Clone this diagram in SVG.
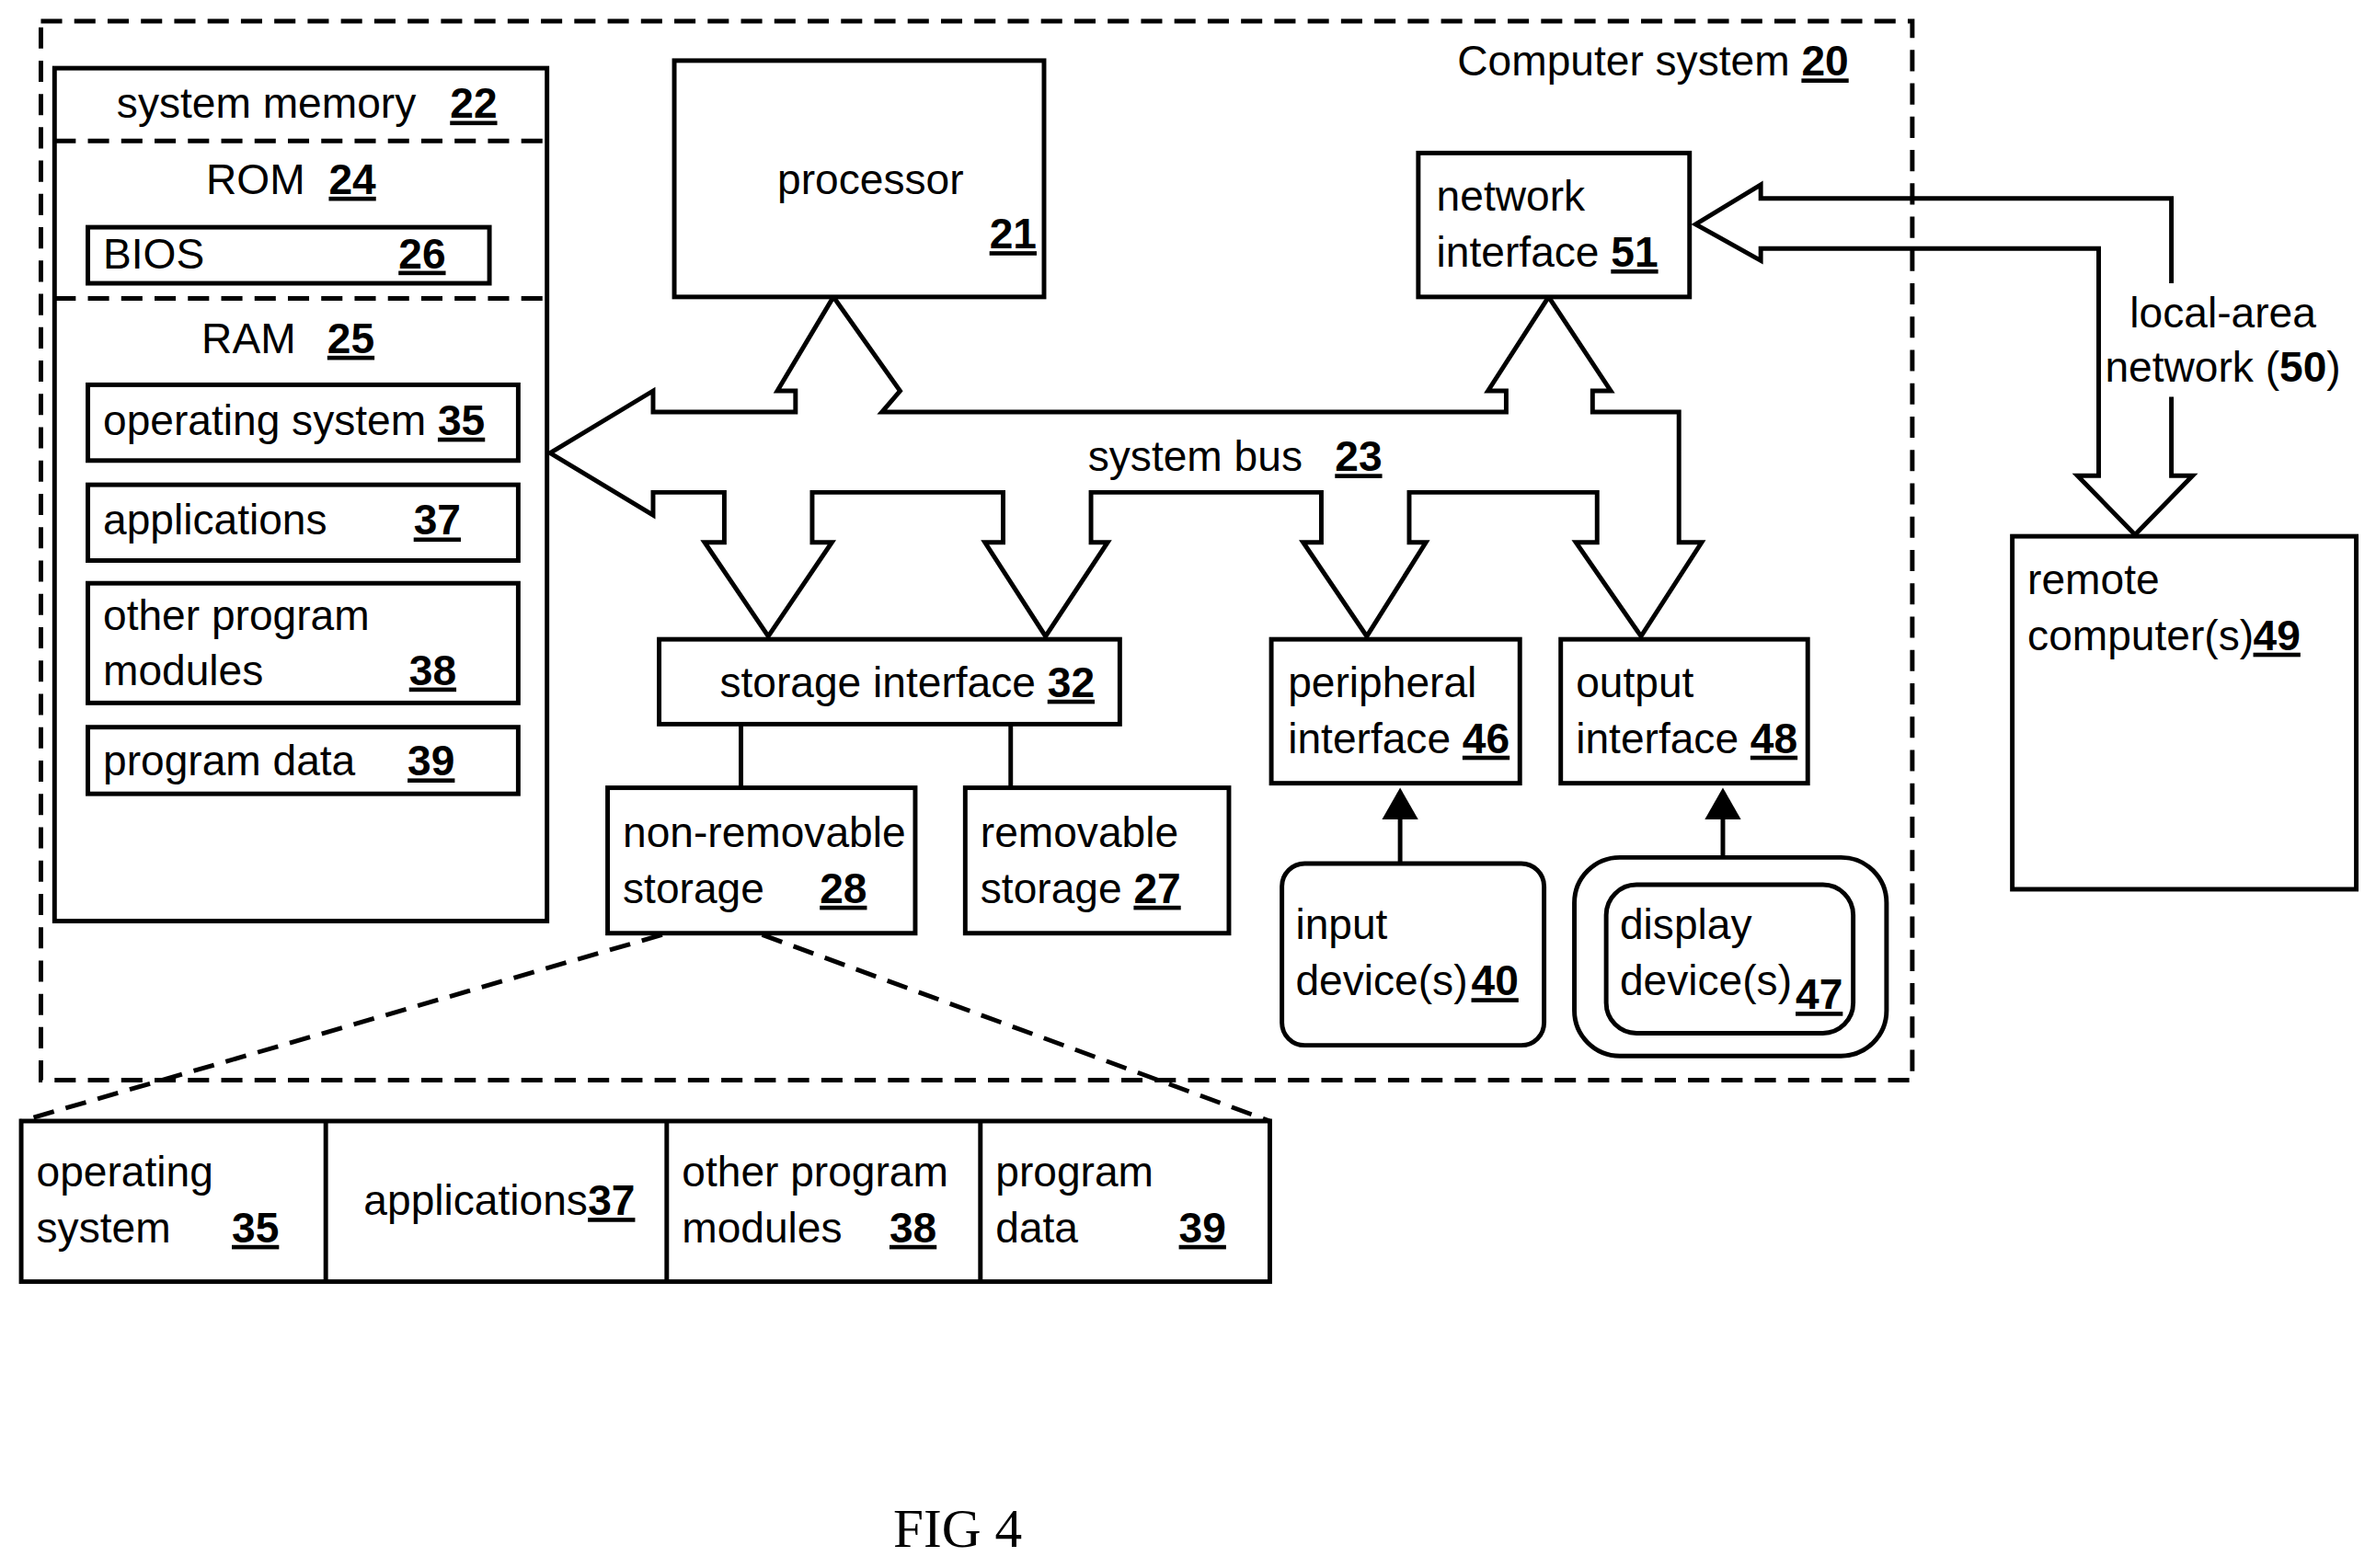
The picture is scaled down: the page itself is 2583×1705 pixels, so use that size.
<svg xmlns="http://www.w3.org/2000/svg" width="2583" height="1705" viewBox="0 0 2583 1705">
<style>
text{font-family:"Liberation Sans Narrow","Liberation Sans",Arial,sans-serif;font-size:28px;fill:#000}
.n{font-weight:bold;text-decoration:underline}
.b{fill:#fff;stroke:#000;stroke-width:3}
.d{fill:none;stroke:#000;stroke-width:3;stroke-dasharray:14 8}
.l{fill:none;stroke:#000;stroke-width:3}
</style>
<defs><marker id="ah" markerWidth="8" markerHeight="8" refX="6" refY="4" orient="auto" markerUnits="strokeWidth"><path d="M0,0L7,4L0,8z" fill="#000"/></marker></defs>
<rect width="2583" height="1705" fill="#fff"/>
<g transform="scale(1.6473)">
<g id="computer-system"><rect x="27" y="14" width="1235" height="699" class="d"/><text x="1220" y="50" text-anchor="end">Computer system <tspan class="n">20</tspan></text></g>
<g id="system-memory">
<rect x="36" y="45" width="325" height="563" class="b"/>
<line x1="36" y1="93" x2="361" y2="93" class="d"/><line x1="36" y1="197" x2="361" y2="197" class="d"/>
<text x="77" y="78">system memory</text><text x="297" y="78" class="n">22</text>
<text x="136" y="128">ROM</text><text x="217" y="128" class="n">24</text>
<rect x="58" y="150" width="265" height="37" class="b"/><text x="68" y="177">BIOS</text><text x="263" y="177" class="n">26</text>
<text x="133" y="233">RAM</text><text x="216" y="233" class="n">25</text>
<rect x="58" y="254" width="284" height="50" class="b"/><text x="68" y="287">operating system <tspan class="n">35</tspan></text>
<rect x="58" y="320" width="284" height="50" class="b"/><text x="68" y="353">applications</text><text x="273" y="353" class="n">37</text>
<rect x="58" y="385" width="284" height="79" class="b"/><text x="68" y="416">other program</text><text x="68" y="452">modules</text><text x="270" y="452" class="n">38</text>
<rect x="58" y="480" width="284" height="44" class="b"/><text x="68" y="512">program data</text><text x="269" y="512" class="n">39</text>
</g>
<g id="connectors">
<polygon class="b" points="363,299 431,258 431,272 525,272 525,258 513,258 550,196 594,258 582,272 582,272 994,272 994,258 982,258 1022,196 1063,258 1051,258 1051,272 1108,272 1108,358 1123,358 1083,420 1040,358 1054,358 1054,325 930,325 930,358 941,358 902,420 860,358 872,358 872,325 720,325 720,358 731,358 690,420 650,358 662,358 662,325 536,325 536,358 549,358 507,420 465,358 478,358 478,325 431,325 431,340"/>
<line x1="489" y1="478" x2="489" y2="520" class="l"/><line x1="667" y1="478" x2="667" y2="520" class="l"/>
<line x1="924" y1="570" x2="924" y2="523" class="l" marker-end="url(#ah)"/>
<line x1="1137" y1="566" x2="1137" y2="523" class="l" marker-end="url(#ah)"/>
<polyline class="l" points="1433,187 1433,131 1162,131 1162,122 1119,148 1162,172 1162,164 1385,164 1385,314 1371,314 1409,353 1447,314 1433,314 1433,262"/>
<line x1="437" y1="617" x2="14" y2="740" class="d"/><line x1="503" y1="617" x2="838" y2="740" class="d"/>
</g>
<g id="processor"><rect x="445" y="40" width="244" height="156" class="b"/><text x="513" y="128">processor</text><text x="653" y="164" class="n">21</text></g>
<g id="network-interface"><rect x="936" y="101" width="179" height="95" class="b"/><text x="948" y="139">network</text><text x="948" y="176">interface <tspan class="n">51</tspan></text></g>
<text x="718" y="311">system bus</text><text x="881" y="311" class="n">23</text>
<text x="1467" y="216" text-anchor="middle">local-area</text><text x="1467" y="252" text-anchor="middle">network (<tspan font-weight="bold">50</tspan>)</text>
<g id="storage-interface"><rect x="435" y="422" width="304" height="56" class="b"/><text x="475" y="460">storage interface <tspan class="n">32</tspan></text></g>
<g id="non-removable"><rect x="401" y="520" width="203" height="96" class="b"/><text x="411" y="559">non-removable</text><text x="411" y="596">storage</text><text x="541" y="596" class="n">28</text></g>
<g id="removable"><rect x="637" y="520" width="174" height="96" class="b"/><text x="647" y="559">removable</text><text x="647" y="596">storage  <tspan class="n">27</tspan></text></g>
<g id="peripheral"><rect x="839" y="422" width="164" height="95" class="b"/><text x="850" y="460">peripheral</text><text x="850" y="497">interface <tspan class="n">46</tspan></text></g>
<g id="output"><rect x="1030" y="422" width="163" height="95" class="b"/><text x="1040" y="460">output</text><text x="1040" y="497">interface <tspan class="n">48</tspan></text></g>
<g id="input"><rect x="846" y="570" width="173" height="120" rx="15" class="b"/><text x="855" y="620">input</text><text x="855" y="657">device(s)</text><text x="971" y="657" class="n">40</text></g>
<g id="display"><rect x="1039" y="566" width="206" height="131" rx="30" class="b"/><rect x="1060" y="584" width="163" height="98" rx="20" class="b"/><text x="1069" y="620">display</text><text x="1069" y="657">device(s)</text><text x="1185" y="666" class="n">47</text></g>
<g id="remote"><rect x="1328" y="354" width="227" height="233" class="b"/><text x="1338" y="392">remote</text><text x="1338" y="429">computer(s)</text><text x="1487" y="429" class="n">49</text></g>
<g id="storage-detail">
<rect x="14" y="740" width="824" height="106" class="b"/>
<line x1="215" y1="740" x2="215" y2="846" class="l"/><line x1="440" y1="740" x2="440" y2="846" class="l"/><line x1="647" y1="740" x2="647" y2="846" class="l"/>
<text x="24" y="783">operating</text><text x="24" y="820">system</text><text x="153" y="820" class="n">35</text>
<text x="240" y="802">applications</text><text x="388" y="802" class="n">37</text>
<text x="450" y="783">other program</text><text x="450" y="820">modules</text><text x="587" y="820" class="n">38</text>
<text x="657" y="783">program</text><text x="657" y="820">data</text><text x="778" y="820" class="n">39</text>
</g>
<text x="632" y="1021" text-anchor="middle" style="font-family:'Liberation Serif',serif;font-size:36px">FIG 4</text>
</g>
</svg>
